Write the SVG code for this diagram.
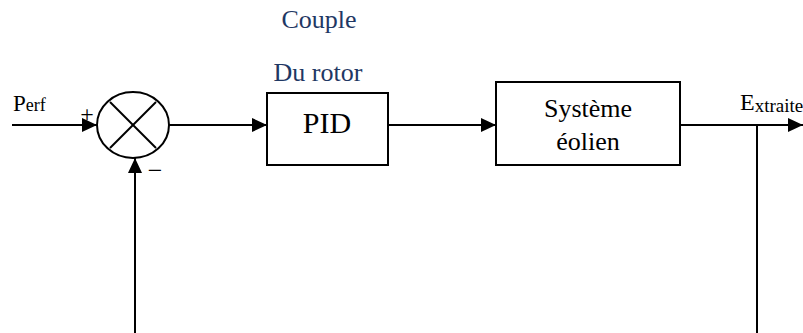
<svg xmlns="http://www.w3.org/2000/svg" width="803" height="333" viewBox="0 0 803 333" font-family="Liberation Serif">
<defs>
<marker id="arr" markerWidth="15" markerHeight="14" refX="15" refY="7" orient="auto" markerUnits="userSpaceOnUse">
<path d="M0,0 L15,7 L0,14 Z" fill="#000"/>
</marker>
</defs>
<style>
.blue{fill:#1F3864}
.box{fill:#fff;stroke:#000;stroke-width:2}
.ln{stroke:#000;stroke-width:2;fill:none}
</style>
<rect width="803" height="333" fill="#fff"/>
<g id="labels" font-family="Liberation Serif">
<text class="blue" x="319" y="28" font-size="26" text-anchor="middle" font-family="Liberation Serif">Couple</text>
<text class="blue" x="318" y="81" font-size="26" text-anchor="middle" font-family="Liberation Serif">Du rotor</text>
<text x="13" y="111" font-size="23" font-family="Liberation Serif">P<tspan font-size="18">erf</tspan></text>
<text x="740" y="110" font-size="24" font-family="Liberation Serif">E<tspan font-size="19" dy="2">xtraite</tspan></text>
<text x="87" y="122" font-size="24" text-anchor="middle" font-family="Liberation Serif">+</text>
<text x="155" y="179" font-size="26" text-anchor="middle" font-family="Liberation Serif">−</text>
</g>
<g id="sum">
<ellipse class="ln" cx="133" cy="125" rx="36" ry="33"/>
<line class="ln" x1="110" y1="102" x2="156" y2="148"/>
<line class="ln" x1="156" y1="102" x2="110" y2="148"/>
</g>
<g id="pid">
<rect class="box" x="267" y="93" width="121" height="72"/>
<text x="327" y="133" font-size="30" text-anchor="middle" font-family="Liberation Serif">PID</text>
</g>
<g id="systeme">
<rect class="box" x="496" y="82" width="184" height="83"/>
<text x="588" y="117" font-size="26" text-anchor="middle" font-family="Liberation Serif">Système</text>
<text x="588" y="150" font-size="26" text-anchor="middle" font-family="Liberation Serif">éolien</text>
</g>
<g id="connectors">
<line class="ln" x1="12" y1="125" x2="97" y2="125" marker-end="url(#arr)"/>
<line class="ln" x1="169" y1="125" x2="267" y2="125" marker-end="url(#arr)"/>
<line class="ln" x1="388" y1="125" x2="496" y2="125" marker-end="url(#arr)"/>
<line class="ln" x1="680" y1="125" x2="803" y2="125" marker-end="url(#arr)"/>
<line class="ln" x1="757" y1="125" x2="757" y2="333"/>
<line class="ln" x1="135" y1="333" x2="135" y2="158" marker-end="url(#arr)"/>
</g>
</svg>
